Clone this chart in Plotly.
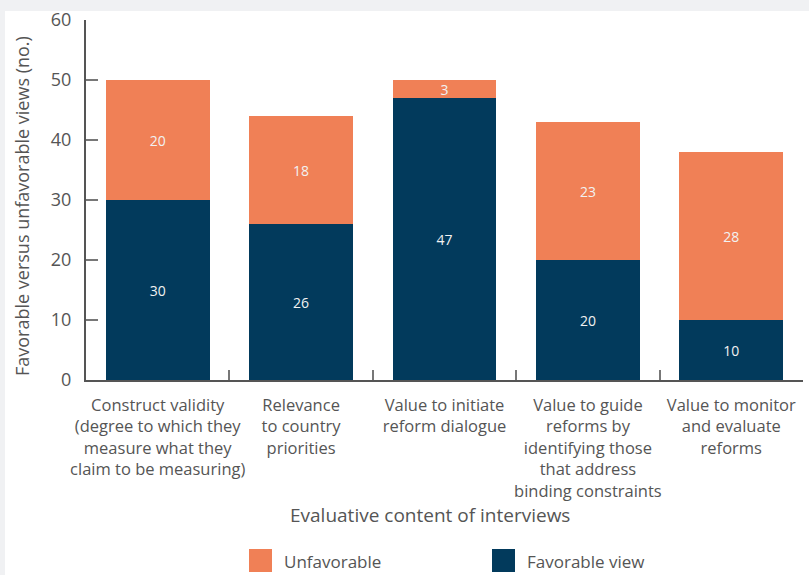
import plotly.graph_objects as go

# Evaluative content of interviews: favorable vs unfavorable views (counts)
categories = [
    "Construct validity<br>(degree to which they<br>measure what they<br>claim to be measuring)",
    "Relevance<br>to country<br>priorities",
    "Value to initiate<br>reform dialogue",
    "Value to guide<br>reforms by<br>identifying those<br>that address<br>binding constraints",
    "Value to monitor<br>and evaluate<br>reforms",
]
favorable = [30, 26, 47, 20, 10]
unfavorable = [20, 18, 3, 23, 28]
y_ticks = [0, 10, 20, 30, 40, 50, 60]

NAVY = "#023A5C"
ORANGE = "#F08056"
TEXT = "#555555"
FONT = "Open Sans"

fig = go.Figure()
fig.add_trace(go.Bar(
    x=categories, y=favorable, name="Favorable view",
    marker=dict(color=NAVY, line=dict(width=0)),
    texttemplate="%{y}", textposition="inside", insidetextanchor="middle", textangle=0,
    textfont=dict(color="#f2f2f2", size=14, family=FONT),
    showlegend=False,
))
fig.add_trace(go.Bar(
    x=categories, y=unfavorable, name="Unfavorable",
    marker=dict(color=ORANGE, line=dict(width=0)),
    texttemplate="%{y}", textposition="inside", insidetextanchor="middle", textangle=0,
    textfont=dict(color="#f2f2f2", size=14, family=FONT),
    showlegend=False,
))

fig.update_layout(
    width=809, height=575,
    barmode="stack", bargap=0.275,
    margin=dict(l=86, r=6, t=20, b=195),
    paper_bgcolor="white", plot_bgcolor="white",
    font=dict(family=FONT, color=TEXT, size=15),
    uniformtext=dict(minsize=14, mode="show"),
)

fig.update_xaxes(
    showline=True, linecolor="#555555", linewidth=2,
    ticks="inside", tickson="boundaries", ticklen=10, tickcolor="#777777", tickwidth=1.5,
    tickangle=0, ticklabelstandoff=9,
    tickfont=dict(size=16.5, color=TEXT, family=FONT),
    automargin=False, showgrid=False,
)
fig.update_yaxes(
    range=[0, 60], tickvals=y_ticks,
    showline=True, linecolor="#555555", linewidth=2,
    ticks="inside", ticklen=12, tickcolor="#777777", tickwidth=1.5,
    tickfont=dict(size=18, color=TEXT, family=FONT),
    ticklabelstandoff=9,
    showgrid=False, zeroline=False, automargin=False,
)

plot_w, plot_h = 809 - 86 - 6, 575 - 20 - 195


def px_x(px):
    return (px - 86) / plot_w


def px_y(py):
    return (380 - py) / plot_h


# Axis titles
fig.add_annotation(xref="paper", yref="paper", x=px_x(22), y=px_y(206),
                   text="Favorable versus unfavorable views (no.)", textangle=-90,
                   showarrow=False, xanchor="center", yanchor="middle",
                   font=dict(size=18, color=TEXT, family=FONT))
fig.add_annotation(xref="paper", yref="paper", x=px_x(430), y=px_y(515),
                   text="Evaluative content of interviews",
                   showarrow=False, xanchor="center", yanchor="middle",
                   font=dict(size=19, color=TEXT, family=FONT))

# Light gray frame band along the top and left edges
fig.add_shape(type="rect", xref="paper", yref="paper", layer="below",
              x0=px_x(0), x1=px_x(809), y0=px_y(11), y1=px_y(0),
              fillcolor="#f0f1f3", line=dict(width=0))
fig.add_shape(type="rect", xref="paper", yref="paper", layer="below",
              x0=px_x(0), x1=px_x(5), y0=px_y(575), y1=px_y(0),
              fillcolor="#f0f1f3", line=dict(width=0))

# Legend drawn as swatches with labels
legend_items = [("Unfavorable", ORANGE, 249), ("Favorable view", NAVY, 492)]
for label, color, px in legend_items:
    fig.add_shape(type="rect", xref="paper", yref="paper",
                  x0=px_x(px), x1=px_x(px + 23), y0=px_y(572), y1=px_y(549),
                  fillcolor=color, line=dict(width=0))
    fig.add_annotation(xref="paper", yref="paper", x=px_x(px + 33), y=px_y(561),
                       text=label, showarrow=False,
                       xanchor="left", yanchor="middle",
                       font=dict(size=17, color=TEXT, family=FONT))

fig.write_html("out.html")
